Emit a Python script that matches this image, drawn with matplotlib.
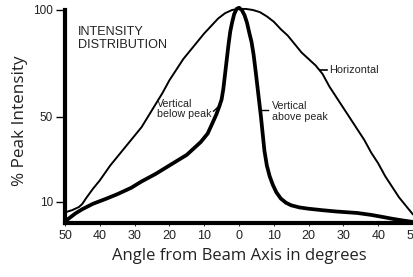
import matplotlib
matplotlib.use("Agg")
import matplotlib.pyplot as plt

# Data (angle in degrees, negative = left side of the beam axis), % peak intensity
horiz_x = [-50, -48, -46, -45, -44, -42, -40, -37, -34, -31, -28, -25, -22, -20, -18, -16, -14, -12, -10, -8, -6, -4, -2, 0,
           2, 4, 6, 8, 10, 12, 14, 16, 18, 20, 22, 24, 26, 28, 30, 32, 34, 36, 38, 40, 42, 44, 46, 48, 50]
horiz_y = [5, 6, 7.5, 9, 11.5, 16, 20, 27, 33, 39, 45, 53, 61, 67, 72, 77, 81, 85, 89, 92.5, 96, 98.5, 100, 100.5,
           100.5, 100, 99, 97, 94.5, 91, 88, 84, 80, 77, 74, 70, 64, 59, 54, 49, 44, 39, 33, 28, 22, 17, 12, 8, 4]

below_x = [-50, -49, -47, -45, -42, -38, -35, -31, -28, -24, -21, -18, -15, -13, -11, -9, -7.6, -6.5, -5.6, -5, -4.5,
           -4, -3.5, -3, -2.5, -2, -1.4, -0.7, 0]
below_y = [0.5, 2, 4.5, 6.5, 9, 11.5, 13.5, 16.5, 19.5, 23, 26, 29, 32, 35, 38, 42, 47, 51, 55, 58, 63,
           70, 77, 84, 90, 94, 98, 100.5, 101]

above_x = [0, 0.8, 1.6, 2.3, 3, 3.6, 4.2, 4.8, 5.3, 5.8, 6.3, 6.8, 7.3, 8, 8.8, 9.7, 10.7, 12, 13.5, 15, 17.4, 20,
           24, 28, 34, 38, 41.4, 44, 47, 50]
above_y = [101, 100, 97.5, 94, 89, 85, 79, 71, 64, 57, 50, 42, 34, 27, 22, 18, 14.5, 11.5, 9.5, 8.3, 7.3, 6.7,
           6, 5.4, 4.7, 3.8, 2.8, 2, 1.2, 0.5]

xticks = [-50, -40, -30, -20, -10, 0, 10, 20, 30, 40, 50]
xticklabels = ["50", "40", "30", "20", "10", "0", "10", "20", "30", "40", "50"]
yticks = [10, 50, 100]
yticklabels = ["10", "50", "100"]

fig = plt.figure(figsize=(4.13, 2.77), dpi=100)
ax = fig.add_axes([65/413, 54/277, 348/413, 213/277])
ax.set_xlim(-50, 50)
ax.set_ylim(0, 100)

ax.plot(horiz_x, horiz_y, color="black", lw=1.4, clip_on=False, solid_capstyle="round", solid_joinstyle="round")
ax.plot(below_x, below_y, color="black", lw=2.7, clip_on=False, solid_capstyle="round", solid_joinstyle="round")
ax.plot(above_x, above_y, color="black", lw=2.7, clip_on=False, solid_capstyle="round", solid_joinstyle="round")

for s in ["top", "right"]:
    ax.spines[s].set_visible(False)
for s in ["left", "bottom"]:
    ax.spines[s].set_linewidth(3.0)
    ax.spines[s].set_color("black")

ax.set_xticks(xticks)
ax.set_xticklabels(xticklabels, fontsize=9, family="Liberation Sans", color="#222222")
ax.set_yticks(yticks)
ax.set_yticklabels(yticklabels, fontsize=8.5, family="Liberation Sans", color="#222222")
ax.tick_params(axis="y", length=6.5, width=1, pad=2)
ax.tick_params(axis="x", length=2, width=0.6, pad=3)

ax.set_xlabel("Angle from Beam Axis in degrees", fontsize=12, family="Open Sans", color="#222222", labelpad=4)
ax.set_ylabel("% Peak Intensity", fontsize=12.3, family="Open Sans", color="#222222")
ax.yaxis.set_label_coords(-0.106, 0.48)

ax.text(-46.3, 86.8, "INTENSITY\nDISTRIBUTION", fontsize=9.1, family="Liberation Sans",
        va="center", ha="left", linespacing=1.1, color="#222222")

# labels with short leader ticks
ax.text(-23.5, 53.5, "Vertical\nbelow peak", fontsize=7.7, family="Liberation Sans",
        va="center", ha="left", linespacing=1.1, color="#222222")
ax.plot([-7.3, -6.0], [52.5, 54.5], color="black", lw=1)
ax.text(9.4, 52.5, "Vertical\nabove peak", fontsize=7.7, family="Liberation Sans",
        va="center", ha="left", linespacing=1.1, color="#222222")
ax.plot([6.1, 8.2], [53, 53], color="black", lw=1)
ax.text(25.8, 71.8, "Horizontal", fontsize=7.8, family="Liberation Sans",
        va="center", ha="left", color="#222222")
ax.plot([23.2, 25.4], [71.8, 71.8], color="black", lw=1.2)

fig.savefig("out.png", dpi=100)
